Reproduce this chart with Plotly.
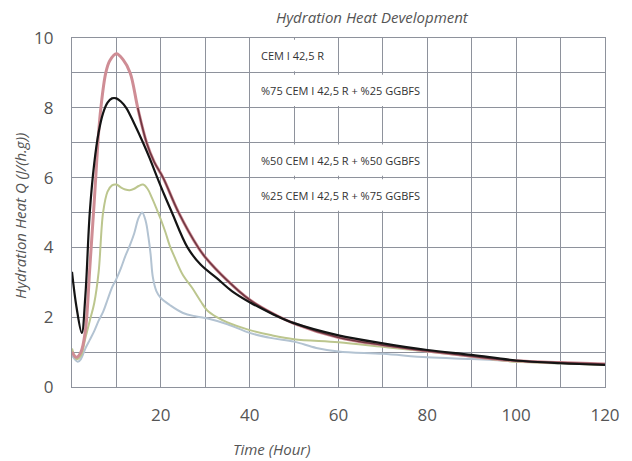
import plotly.graph_objects as go

# ---- data ----
legend_labels = ["CEM I 42,5 R",
                 "%75 CEM I 42,5 R + %25 GGBFS",
                 "%50 CEM I 42,5 R + %50 GGBFS",
                 "%25 CEM I 42,5 R + %75 GGBFS"]

pink_x = [0, 1, 2, 3, 4, 5, 6, 6.5, 7.6, 8.5, 10, 11.5, 13.1, 14.8, 16.8, 18.5, 20.5, 24, 28.4, 30, 35, 40, 45, 50, 60, 70, 80, 90, 100, 110, 120]
pink_y = [1.0, 0.85, 1.0, 1.6, 3.4, 5.3, 7.3, 8.0, 9.0, 9.35, 9.55, 9.38, 9.0, 8.0, 7.0, 6.45, 6.0, 5.0, 4.0, 3.72, 3.05, 2.5, 2.12, 1.82, 1.42, 1.2, 1.03, 0.88, 0.75, 0.7, 0.66]

black_x = [0, 1, 2.2, 3, 4, 5, 6, 7, 8, 9, 10, 11, 12.2, 14, 16, 17.5, 19.2, 20.8, 22.5, 26, 29, 32.6, 36, 40, 45, 50, 60, 70, 80, 90, 100, 110, 120]
black_y = [3.3, 2.3, 1.55, 2.6, 5.0, 6.4, 7.3, 7.85, 8.15, 8.27, 8.27, 8.18, 8.0, 7.55, 7.0, 6.55, 6.0, 5.5, 5.0, 4.0, 3.5, 3.12, 2.75, 2.43, 2.1, 1.83, 1.48, 1.25, 1.06, 0.92, 0.76, 0.68, 0.63]

green_x = [0, 1, 2, 3, 4, 5, 6, 7, 8, 9, 10, 11, 12, 13, 14, 15, 16, 17, 18, 19, 20, 21, 22, 23, 25, 27, 29, 30.4, 32.6, 35, 40, 45, 50, 60, 70, 80, 90, 100, 110, 120]
green_y = [1.1, 0.8, 0.9, 1.4, 1.9, 2.4, 3.3, 5.0, 5.6, 5.78, 5.8, 5.72, 5.66, 5.64, 5.68, 5.76, 5.8, 5.68, 5.42, 5.12, 4.8, 4.45, 4.05, 3.75, 3.2, 2.85, 2.45, 2.2, 2.0, 1.85, 1.63, 1.48, 1.37, 1.28, 1.15, 1.02, 0.87, 0.72, 0.68, 0.63]

blue_x = [0, 1.3, 2, 3, 4, 5, 6, 7, 8, 9, 10, 11, 12, 13, 14, 15, 15.8, 16.6, 17.2, 17.7, 18.2, 19, 20, 22, 25, 28, 31, 35, 40, 45, 50, 55, 60, 70, 80, 90, 100, 110, 120]
blue_y = [0.9, 0.72, 0.8, 1.1, 1.35, 1.6, 1.9, 2.15, 2.5, 2.85, 3.1, 3.4, 3.75, 4.05, 4.4, 4.85, 5.0, 4.75, 4.3, 3.8, 3.15, 2.75, 2.55, 2.35, 2.12, 2.02, 1.95, 1.8, 1.55, 1.4, 1.3, 1.12, 1.02, 0.95, 0.85, 0.8, 0.74, 0.68, 0.65]

x_tickvals = list(range(0, 121, 10))
x_ticktext = ["" if (v % 20 or v == 0) else str(v) for v in x_tickvals]
y_tickvals = list(range(0, 11))
y_ticktext = [str(v) if v % 2 == 0 else "" for v in y_tickvals]

# legend-cell layout (row bottom y, x start, x end)
legend_cells = [(9, 40, 60), (8, 40, 80), (6, 40, 80), (5, 40, 80)]

GRID = "#8e929c"
TXT = "#555555"
FONT = "Open Sans"

fig = go.Figure()

fig.add_trace(go.Scatter(x=blue_x, y=blue_y, mode="lines", line=dict(color="#b3c3d2", width=2, shape="spline"), name=legend_labels[3]))
fig.add_trace(go.Scatter(x=green_x, y=green_y, mode="lines", line=dict(color="#bcc68e", width=2, shape="spline"), name=legend_labels[2]))
fig.add_trace(go.Scatter(x=pink_x, y=pink_y, mode="lines", line=dict(color="#cf8d95", width=3, shape="spline"), name=legend_labels[0]))
k = 13
fig.add_trace(go.Scatter(x=pink_x[k:], y=pink_y[k:], mode="lines", line=dict(color="#6f3641", width=1.6, shape="spline"), showlegend=False))
fig.add_trace(go.Scatter(x=black_x, y=black_y, mode="lines", line=dict(color="#141414", width=2.2, shape="spline"), name=legend_labels[1]))

for (yb, x0, x1), label in zip(legend_cells, legend_labels):
    fig.add_shape(type="rect", xref="x", yref="y", x0=x0 + 0.4, x1=x1 - 0.4, y0=yb + 0.05, y1=yb + 0.95,
                  fillcolor="white", line=dict(width=0), layer="above")
    fig.add_annotation(x=x0 + 2.0, y=yb + 0.5, xref="x", yref="y", text=label, showarrow=False,
                       xanchor="left", yanchor="middle",
                       font=dict(family=FONT, size=11, color="#333333"))

fig.add_annotation(text="<i>Hydration Heat Development</i>", xref="paper", yref="paper",
                   x=0.563, y=1.0, yshift=21, xanchor="center", yanchor="middle", showarrow=False,
                   font=dict(family=FONT, size=15, color=TXT))
fig.add_annotation(text="<i>Time (Hour)</i>", xref="paper", yref="paper",
                   x=0.375, y=0, yshift=-62, xanchor="center", yanchor="middle", showarrow=False,
                   font=dict(family=FONT, size=15, color=TXT))
fig.add_annotation(text="<i>Hydration Heat Q (J/(h.g))</i>", xref="paper", yref="paper",
                   x=0, xshift=-52, y=0.49, xanchor="center", yanchor="middle", showarrow=False,
                   textangle=-90, font=dict(family=FONT, size=15, color=TXT))

fig.update_xaxes(range=[0, 120], tickvals=x_tickvals, ticktext=x_ticktext, showgrid=True,
                 gridcolor=GRID, gridwidth=1.3, showline=True, mirror=True, linecolor=GRID,
                 linewidth=1.3, zeroline=False, ticks="", ticklabelstandoff=12,
                 tickfont=dict(family=FONT, size=17, color=TXT))
fig.update_yaxes(range=[0, 10], tickvals=y_tickvals, ticktext=y_ticktext, showgrid=True,
                 gridcolor=GRID, gridwidth=1.3, showline=True, mirror=True, linecolor=GRID,
                 linewidth=1.3, zeroline=False, ticks="", ticklabelstandoff=14,
                 tickfont=dict(family=FONT, size=17, color=TXT))

fig.update_layout(width=632, height=461, margin=dict(l=72, r=27, t=38, b=74),
                  paper_bgcolor="white", plot_bgcolor="white", showlegend=False)

fig.write_html("out.html", config={"displayModeBar": False},
               post_script="document.body.style.margin='0';document.body.style.overflow='hidden';")
